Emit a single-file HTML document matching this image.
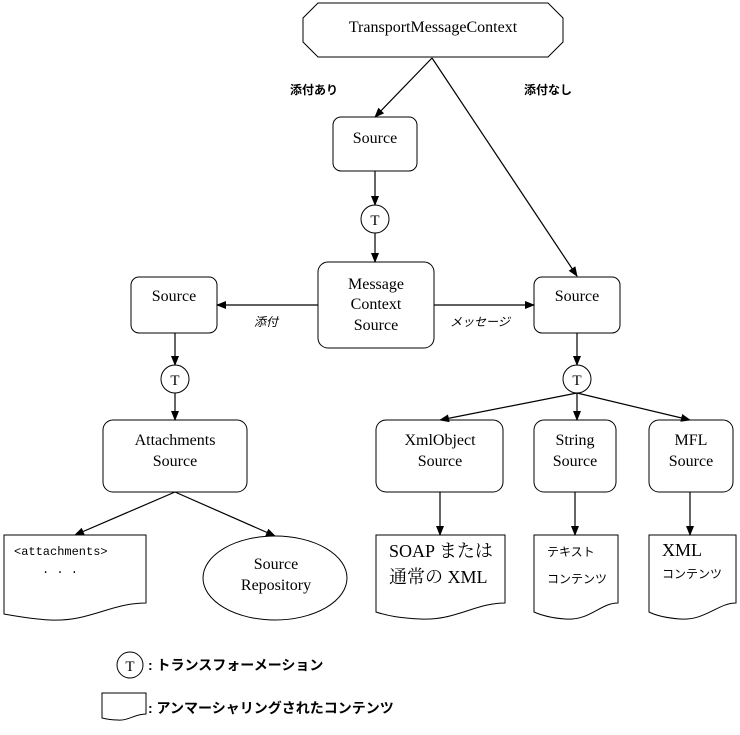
<!DOCTYPE html>
<html><head><meta charset="utf-8"><style>body{margin:0;background:#fff}svg{display:block}</style></head><body>
<svg width="740" height="735" viewBox="0 0 740 735" xmlns="http://www.w3.org/2000/svg" font-family="Liberation Serif, Noto Serif CJK SC, serif">
<defs><marker id="a" markerWidth="10" markerHeight="10" refX="9" refY="5" orient="auto" markerUnits="userSpaceOnUse"><path d="M0,1 L10,5 L0,9 z" fill="#000"/></marker></defs>
<g fill="#fff" stroke="#000" stroke-width="1">
<polygon points="318,3 548,3 563,18 563,42 548,57 318,57 303,42 303,18"/>
<rect x="333" y="117" width="84" height="54" rx="8"/>
<circle cx="375" cy="219" r="14"/>
<rect x="318" y="262" width="116" height="86" rx="10"/>
<rect x="131" y="277" width="86" height="56" rx="8"/>
<rect x="534" y="277" width="86" height="56" rx="8"/>
<circle cx="175" cy="379" r="14"/>
<circle cx="577" cy="379" r="14"/>
<rect x="103" y="420" width="144" height="72" rx="10"/>
<rect x="376" y="420" width="127" height="72" rx="10"/>
<rect x="534" y="420" width="82" height="72" rx="10"/>
<rect x="649" y="420" width="84" height="72" rx="10"/>
<path d="M4,535 H146 V603 C110,603 90,622 50,620 C30,619 15,616 4,614 Z"/>
<ellipse cx="275" cy="578" rx="72" ry="42"/>
<path d="M376,535 H505 V603 C475,603 455,621 420,619 C400,618 388,616 376,612 Z"/>
<path d="M534,535 H618 V603 C600,603 590,621 565,619 C552,618 543,616 534,612 Z"/>
<path d="M649,535 H736 V603 C718,603 705,621 680,619 C667,618 657,616 649,612 Z"/>
<circle cx="130" cy="665" r="13"/>
<path d="M102,693 H146 V714 C135,714 128,721 118,720 C110,720 106,719 102,718 Z"/>
</g>
<g stroke="#000" stroke-width="1.2" fill="none" marker-end="url(#a)">
<line x1="432" y1="58" x2="375" y2="117"/>
<line x1="432" y1="58" x2="577" y2="276"/>
<line x1="375" y1="171" x2="375" y2="205"/>
<line x1="375" y1="233" x2="375" y2="262"/>
<line x1="318" y1="305" x2="217" y2="305"/>
<line x1="434" y1="305" x2="534" y2="305"/>
<line x1="175" y1="333" x2="175" y2="365"/>
<line x1="175" y1="393" x2="175" y2="420"/>
<line x1="577" y1="333" x2="577" y2="365"/>
<line x1="577" y1="393" x2="440" y2="420"/>
<line x1="577" y1="393" x2="577" y2="420"/>
<line x1="577" y1="393" x2="690" y2="420"/>
<line x1="175" y1="492" x2="75" y2="535"/>
<line x1="175" y1="492" x2="275" y2="536"/>
<line x1="440" y1="492" x2="440" y2="535"/>
<line x1="575" y1="492" x2="575" y2="535"/>
<line x1="690" y1="492" x2="690" y2="535"/>
</g>
<g font-size="16" text-anchor="middle" fill="#000">
<text x="433" y="32">TransportMessageContext</text>
<text x="375" y="143">Source</text>
<text x="376" y="289">Message</text><text x="376" y="309">Context</text><text x="376" y="330">Source</text>
<text x="174" y="301">Source</text>
<text x="577" y="301">Source</text>
<text x="175" y="445">Attachments</text><text x="175" y="466">Source</text>
<text x="440" y="445">XmlObject</text><text x="440" y="466">Source</text>
<text x="575" y="445">String</text><text x="575" y="466">Source</text>
<text x="691" y="445">MFL</text><text x="691" y="466">Source</text>
<text x="276" y="569">Source</text><text x="276" y="590">Repository</text>
<text x="375" y="225" font-size="15">T</text>
<text x="175" y="385" font-size="15">T</text>
<text x="577" y="385" font-size="15">T</text>
<text x="130" y="671" font-size="15">T</text>
</g>
<g font-family="Liberation Sans, Noto Sans CJK JP, sans-serif" fill="#000">
<text x="290" y="94" font-size="12" font-weight="bold">添付あり</text>
<text x="524" y="94" font-size="12" font-weight="bold">添付なし</text>
<text x="254" y="326" font-size="12" font-style="italic">添付</text>
<text x="450" y="326" font-size="12" font-style="italic">メッセージ</text>
<text x="547" y="556" font-size="12">テキスト</text>
<text x="547" y="583" font-size="12">コンテンツ</text>
<text x="662" y="578" font-size="12">コンテンツ</text>
<text x="148" y="670" font-size="14" font-weight="bold">: トランスフォーメーション</text>
<text x="148" y="713" font-size="14" font-weight="bold">: アンマーシャリングされたコンテンツ</text>
</g>
<g font-family="Liberation Serif, Noto Serif CJK JP, serif" fill="#000" font-size="18">
<text x="389" y="557">SOAP または</text>
<text x="389" y="583">通常の XML</text>
<text x="662" y="556">XML</text>
</g>
<g font-family="Liberation Mono, monospace" font-size="12" fill="#000">
<text x="14" y="555">&lt;attachments&gt;</text>
<text x="42" y="573">. . .</text>
</g>
</svg>
</body></html>
